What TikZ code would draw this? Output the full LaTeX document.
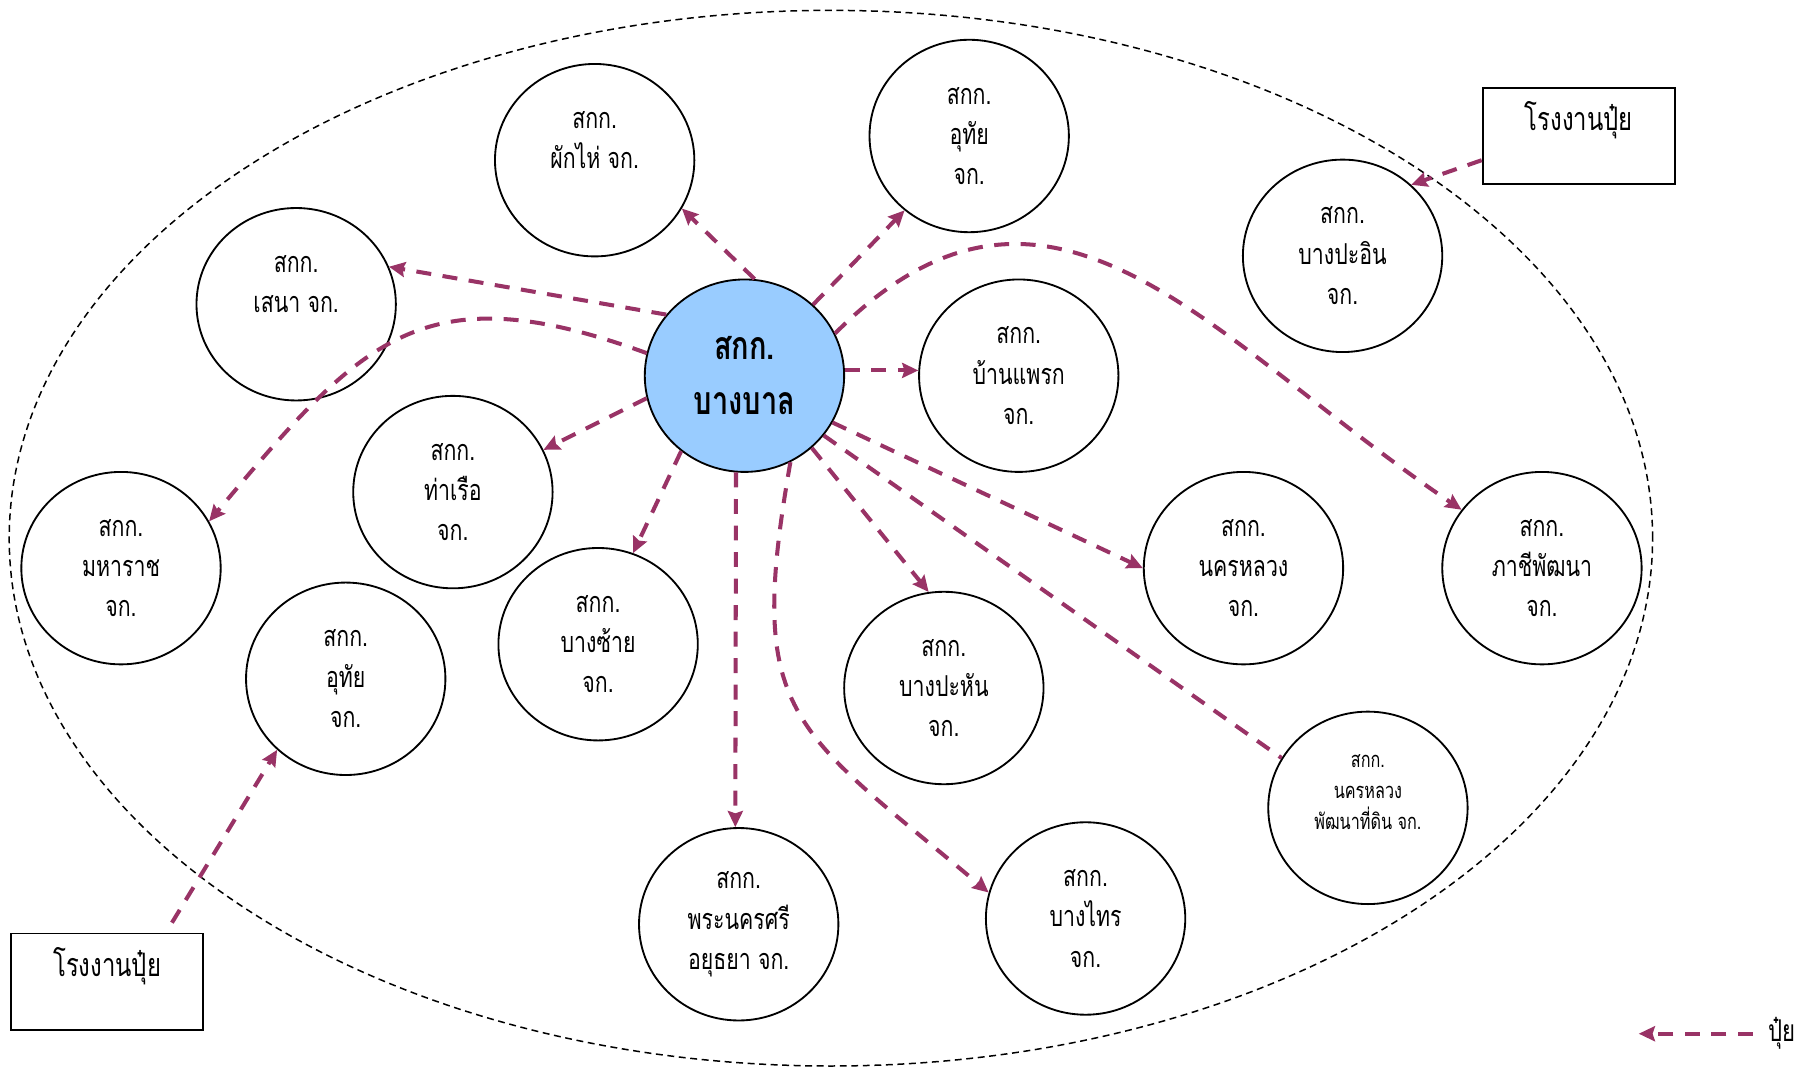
\documentclass[tikz,border=0pt]{standalone}
\usepackage{fontspec}
\setmainfont[Script=Thai,FakeStretch=0.74]{Loma}
\usetikzlibrary{arrows.meta,shapes.geometric}
\definecolor{plum}{HTML}{993366}
\definecolor{skyfill}{HTML}{99CCFF}
\tikzset{
  coop/.style={ellipse,draw,line width=1.6pt,minimum width=173pt,minimum height=167pt,
    inner sep=0pt,align=center,font=\fontsize{25}{35}\selectfont},
  maincoop/.style={coop,fill=skyfill,font=\bfseries\fontsize{34}{48}\selectfont},
  smallcoop/.style={coop,font=\fontsize{19}{27}\selectfont},
  plant/.style={draw,line width=1.6pt,minimum width=167pt,minimum height=84pt,
    inner sep=0pt,align=center,font=\fontsize{28}{35}\selectfont},
  fert/.style={plum,line width=3.5pt,dash pattern=on 13pt off 10pt,
    -{Stealth[length=14pt,width=13pt,inset=2pt]}},
  fertline/.style={plum,line width=3.5pt,dash pattern=on 13pt off 10pt},
  zone/.style={line width=1.3pt,dash pattern=on 6pt off 4pt}
}
\begin{document}
\begin{tikzpicture}[x=1pt,y=-1pt]
  \useasboundingbox(0,0)rectangle(1568,934);
  % outer zone
  \draw[zone](721,467)ellipse[x radius=713pt,y radius=458pt];
  % cooperatives
  \node[maincoop](bb)at(646,326){สกก.\\บางบาล};
  \node[coop](pk)at(516,139){สกก.\\ผักไห่ จก.\\\mbox{}};
  \node[coop](ut1)at(841,118){สกก.\\อุทัย\\จก.};
  \node[coop](bpi)at(1165,222){สกก.\\บางปะอิน\\จก.};
  \node[coop](sn)at(257,264){สกก.\\เสนา จก.\\\mbox{}};
  \node[coop](bpk)at(884,326){สกก.\\บ้านแพรก\\จก.};
  \node[coop](tr)at(393,427){สกก.\\ท่าเรือ\\จก.};
  \node[coop](mhr)at(105,493){สกก.\\มหาราช\\จก.};
  \node[coop](nkl)at(1079,493){สกก.\\นครหลวง\\จก.};
  \node[coop](pcp)at(1338,493){สกก.\\ภาชีพัฒนา\\จก.};
  \node[coop](bsy)at(519,559){สกก.\\บางซ้าย\\จก.};
  \node[coop](ut2)at(300,589){สกก.\\อุทัย\\จก.};
  \node[coop](bph)at(819,597){สกก.\\บางปะหัน\\จก.};
  \node[smallcoop](nkld)at(1187,701){สกก.\\นครหลวง\\พัฒนาที่ดิน จก.\\\mbox{}};
  \node[coop](ayt)at(641,802){สกก.\\พระนครศรี\\อยุธยา จก.};
  \node[coop](bst)at(942,797){สกก.\\บางไทร\\จก.};
  % fertilizer plants
  \node[plant](plne)at(1370,118){โรงงานปุ๋ย\\\mbox{}};
  \node[plant](plsw)at(93,852){โรงงานปุ๋ย\\\mbox{}};
  % fertilizer flows
  \draw[fert](bb.84)--(pk.-29);
  \draw[fert](bb.46)--(ut1.229);
  \draw[fert](bb.142)--(sn.22);
  \draw[fert](bb.167)to[out=160,in=50,looseness=1.3](mhr.28);
  \draw[fert](bb.193)--(tr.25);
  \draw[fert](bb.3)--(bpk.177);
  \draw[fert](bb.25)to[out=45,in=146,looseness=1.2](pcp.144);
  \draw[fert](bb.230)--(bsy.69);
  \draw[fert](bb.265)--(ayt.92);
  \draw[fert](bb.-62)to[out=-100,in=140,looseness=1.4](bst.165);
  \draw[fert](bb.-47)--(bph.99);
  \draw[fert](bb.-28)--(nkl.180);
  \draw[fertline](bb.-37)--(nkld.150);
  \draw[fert](plne.194)--(bpi.46);
  \draw[fert,shorten <=10pt](plsw.40)--(ut2.226);
  % legend
  \node[font=\fontsize{26}{35}\selectfont,inner sep=0pt](lgtx)at(1546,897){ปุ๋ย};
  \coordinate(lgtip)at(1422,897);
  \draw[fert,shorten <=13pt](lgtx.west)--(lgtip);
\end{tikzpicture}
\end{document}
